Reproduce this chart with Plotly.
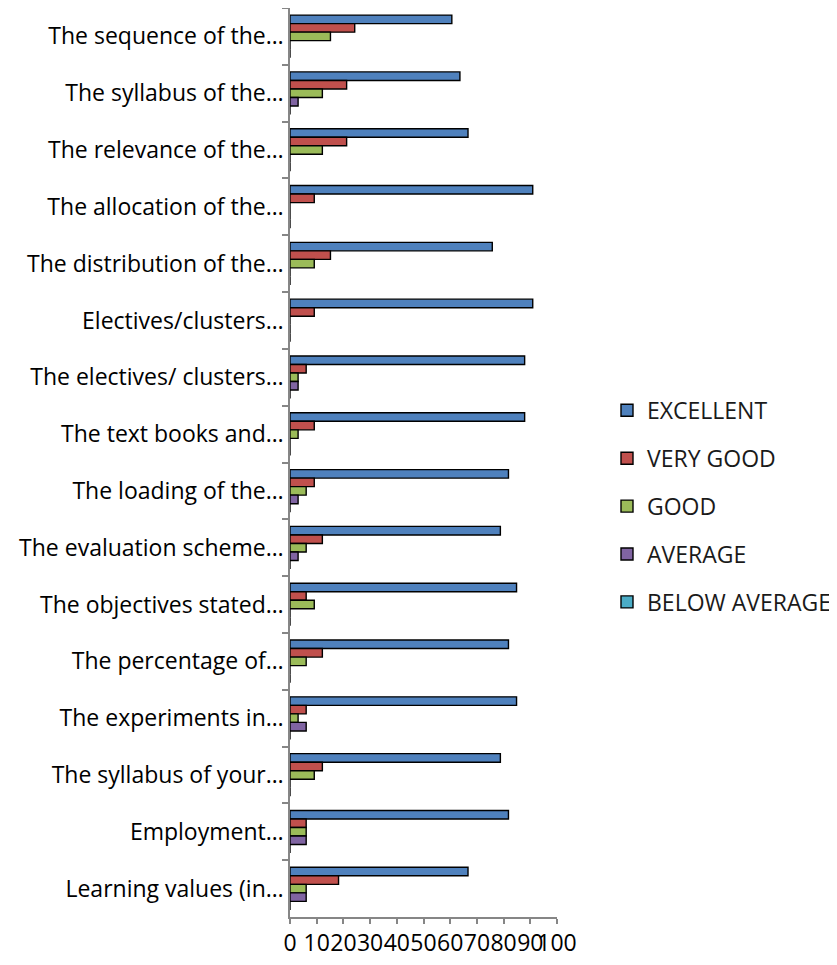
import plotly.graph_objects as go

categories = [
    "The sequence of the…",
    "The syllabus of the…",
    "The relevance of the…",
    "The allocation of the…",
    "The distribution of the…",
    "Electives/clusters…",
    "The electives/ clusters…",
    "The text books and…",
    "The loading of the…",
    "The evaluation scheme…",
    "The objectives stated…",
    "The percentage of…",
    "The experiments in…",
    "The syllabus of your…",
    "Employment…",
    "Learning values (in…",
]

excellent = [60.61, 63.64, 66.67, 90.91, 75.76, 90.91, 87.88, 87.88,
             81.82, 78.79, 84.85, 81.82, 84.85, 78.79, 81.82, 66.67]
very_good = [24.24, 21.21, 21.21, 9.09, 15.15, 9.09, 6.06, 9.09,
             9.09, 12.12, 6.06, 12.12, 6.06, 12.12, 6.06, 18.18]
good = [15.15, 12.12, 12.12, 0, 9.09, 0, 3.03, 3.03,
        6.06, 6.06, 9.09, 6.06, 3.03, 9.09, 6.06, 6.06]
average = [0, 3.03, 0, 0, 0, 0, 3.03, 0,
           3.03, 3.03, 0, 0, 6.06, 0, 6.06, 6.06]
below_average = [0] * 16

series = [
    ("EXCELLENT", excellent, "#4F81BD"),
    ("VERY GOOD", very_good, "#C0504D"),
    ("GOOD", good, "#9BBB59"),
    ("AVERAGE", average, "#8064A2"),
    ("BELOW AVERAGE", below_average, "#4BACC6"),
]

x_ticks = list(range(0, 101, 10))

fig = go.Figure()
for i, (name, vals, color) in enumerate(series):
    fig.add_trace(go.Bar(
        y=categories, x=vals, name=name, orientation="h",
        marker=dict(color=color, line=dict(color="#000000", width=1.4)),
        legendgroup=f"g{i}",
    ))

font_family = "Open Sans, Noto Sans, sans-serif"
fig.update_layout(
    width=829, height=957,
    margin=dict(l=282, r=279, t=0, b=48),
    paper_bgcolor="white", plot_bgcolor="white",
    barmode="group", bargap=0.25, bargroupgap=0,
    font=dict(family=font_family, size=23, color="#000000"),
    showlegend=True,
    legend=dict(
        x=1.186, xanchor="left", y=0.581, yanchor="top",
        font=dict(family=font_family, size=23, color="#1a1a1a"),
        tracegroupgap=15, traceorder="grouped",
        bgcolor="rgba(0,0,0,0)", borderwidth=0,
    ),
    xaxis=dict(
        range=[0, 100], tickmode="array", tickvals=x_ticks,
        ticktext=[str(v) for v in x_ticks], tickangle=0,
        showgrid=False, zeroline=False,
        showline=True, linecolor="#868686", linewidth=1.5,
        ticks="outside", ticklen=5, tickcolor="#868686", tickwidth=1.5,
        tickfont=dict(size=23), fixedrange=True,
    ),
    yaxis=dict(
        type="category", autorange="reversed",
        showgrid=False, zeroline=False,
        showline=True, linecolor="#868686", linewidth=1.5,
        ticks="outside", ticklen=6, tickcolor="#868686", tickwidth=1.5,
        tickson="boundaries", tickfont=dict(size=23),
    ),
)

fig.write_html("out.html")
